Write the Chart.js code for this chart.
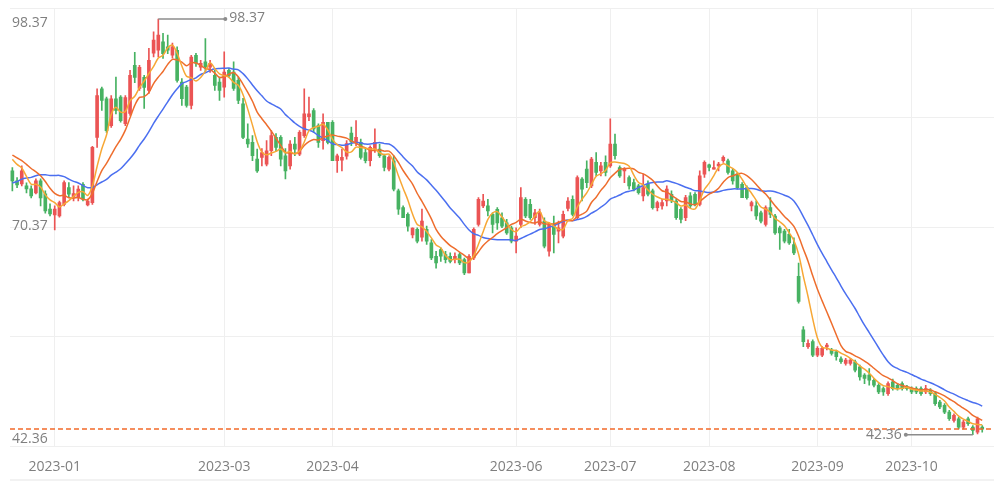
<!DOCTYPE html>
<html lang="en">
<head>
    <meta charset="UTF-8">
    <title>K-Line</title>
    <script src="https://cdn.jsdelivr.net/npm/chart.js"></script>
    <style>
        html, body { margin: 0; padding: 0; background: #fff; }
        #wrap { width: 1000px; height: 482px; }
    </style>
</head>
<body>
    <div id="wrap"><canvas id="kline"></canvas></div>
    <script>
        // trading days, month by month
        const tradingDays = [
            ['2022-12', [20, 21, 22, 23, 26, 27, 28, 29, 30]],
            ['2023-01', [3, 4, 5, 6, 9, 10, 11, 12, 13, 16, 17, 18, 19, 20, 30, 31]],
            ['2023-02', [1, 2, 3, 6, 7, 8, 9, 10, 13, 14, 15, 16, 17, 20, 21, 22, 23, 24, 27, 28]],
            ['2023-03', [1, 2, 3, 6, 7, 8, 9, 10, 13, 14, 15, 16, 17, 20, 21, 22, 23, 24, 27, 28, 29, 30, 31]],
            ['2023-04', [3, 4, 6, 7, 10, 11, 12, 13, 14, 17, 18, 19, 20, 21, 24, 25, 26, 27, 28]],
            ['2023-05', [4, 5, 8, 9, 10, 11, 12, 15, 16, 17, 18, 19, 22, 23, 24, 25, 26, 29, 30, 31]],
            ['2023-06', [1, 2, 5, 6, 7, 8, 9, 12, 13, 14, 15, 16, 19, 20, 21, 26, 27, 28, 29, 30]],
            ['2023-07', [3, 4, 5, 6, 7, 10, 11, 12, 13, 14, 17, 18, 19, 20, 21, 24, 25, 26, 27, 28, 31]],
            ['2023-08', [1, 2, 3, 4, 7, 8, 9, 10, 11, 14, 15, 16, 17, 18, 21, 22, 23, 24, 25, 28, 29, 30, 31]],
            ['2023-09', [1, 4, 5, 6, 7, 8, 11, 12, 13, 14, 15, 18, 19, 20, 21, 22, 25, 26, 27, 28]],
            ['2023-10', [9, 10, 11, 12, 13, 16, 17, 18, 19, 20, 23, 24, 25, 26, 27, 30]]
        ];
        const shownMonths = ['2023-01', '2023-03', '2023-04', '2023-06', '2023-07', '2023-08', '2023-09', '2023-10'];

        const opens = [
            77.91, 76.56, 76.15, 75.88, 75.48, 74.93, 76.56, 74.80, 72.77, 71.96,
            71.82, 73.40, 75.65, 74.39, 74.30, 76.11, 73.31, 73.62, 82.42, 88.98,
            87.63, 84.01, 87.63, 87.85, 84.28, 85.64, 92.14, 89.02, 90.51, 88.75,
            93.76, 94.17, 95.30, 94.62, 93.49, 94.17, 89.88, 89.20, 86.72, 93.49,
            91.87, 92.59, 91.87, 90.78, 89.88, 89.20, 91.46, 91.23, 90.11, 86.95,
            82.21, 81.75, 79.50, 79.72, 78.82, 80.62, 82.43, 82.43, 79.95, 78.59,
            81.53, 80.17, 82.66, 85.23, 86.04, 84.01, 81.98, 84.46, 84.46, 79.27,
            79.36, 79.90, 83.00, 81.75, 81.75, 80.39, 79.27, 80.85, 80.85, 79.95,
            78.14, 79.27, 75.21, 72.95, 72.05, 69.29, 70.02, 68.97, 70.02, 68.20,
            66.40, 67.31, 66.63, 66.40, 66.09, 66.63, 65.95, 64.14, 66.17, 70.69,
            73.18, 73.18, 72.05, 72.73, 71.59, 70.91, 70.24, 68.43, 70.69, 74.08,
            73.40, 71.59, 70.69, 71.14, 67.08, 70.69, 69.79, 69.11, 72.86, 74.08,
            71.59, 76.79, 78.14, 75.88, 79.05, 77.91, 79.05, 78.59, 81.53, 78.36,
            77.91, 77.01, 76.33, 75.88, 74.53, 76.11, 75.21, 72.95, 73.18, 73.85,
            74.76, 73.85, 72.73, 71.60, 74.53, 74.76, 73.40, 77.46, 78.73, 78.14,
            78.59, 79.27, 79.27, 77.91, 77.46, 76.11, 75.65, 73.18, 73.18, 72.27,
            70.69, 72.95, 71.82, 70.24, 69.79, 69.34, 67.99, 63.69, 56.47, 54.21,
            54.89, 53.08, 53.08, 54.21, 53.76, 53.53, 52.58, 51.95, 51.95, 52.18,
            51.50, 50.37, 50.37, 49.69, 49.02, 48.56, 47.88, 49.47, 49.02, 49.24,
            48.79, 48.56, 48.56, 48.56, 48.11, 48.34, 47.88, 46.76, 46.31, 45.40,
            44.27, 44.50, 43.37, 44.50, 43.37, 42.69, 43.37
        ];
        const closes = [
            76.56, 76.02, 77.91, 75.48, 74.53, 76.56, 74.26, 72.50, 72.09, 72.77,
            73.62, 76.33, 74.76, 74.84, 75.44, 74.08, 73.85, 81.07, 88.07, 87.40,
            83.33, 87.63, 86.04, 84.69, 87.80, 90.78, 90.51, 91.87, 89.16, 92.82,
            95.53, 96.20, 93.72, 94.17, 94.62, 90.11, 87.63, 86.72, 93.26, 92.41,
            92.41, 91.91, 92.41, 89.43, 88.75, 91.23, 90.78, 89.02, 87.40, 82.43,
            81.53, 79.95, 77.91, 80.39, 80.62, 82.66, 81.07, 79.50, 77.91, 81.53,
            80.85, 83.10, 85.59, 85.59, 83.56, 81.75, 84.46, 81.75, 79.27, 79.95,
            79.72, 81.60, 81.80, 82.43, 79.72, 79.27, 81.07, 81.75, 79.95, 78.36,
            79.72, 75.44, 72.73, 71.59, 70.47, 70.20, 68.43, 71.14, 68.43, 66.17,
            65.49, 66.40, 65.95, 65.72, 66.40, 65.49, 64.14, 66.40, 70.02, 74.08,
            73.85, 72.50, 70.69, 70.91, 70.47, 69.56, 68.43, 69.11, 74.30, 71.82,
            71.59, 72.27, 72.27, 67.76, 70.69, 69.34, 70.24, 72.05, 73.85, 72.05,
            77.01, 75.44, 76.33, 79.50, 77.69, 78.59, 77.69, 81.53, 79.95, 77.24,
            78.14, 75.88, 75.44, 74.98, 75.65, 74.76, 72.95, 73.62, 73.62, 75.44,
            73.85, 71.59, 71.37, 74.30, 73.18, 73.40, 77.24, 79.05, 78.36, 78.36,
            78.82, 79.72, 77.69, 76.56, 75.65, 74.30, 74.30, 73.62, 71.82, 71.14,
            72.95, 72.05, 69.56, 69.56, 68.43, 68.20, 66.85, 60.30, 54.89, 54.66,
            53.08, 53.98, 53.98, 54.44, 53.31, 52.85, 52.18, 52.40, 52.40, 51.05,
            50.14, 49.92, 49.69, 49.02, 48.11, 48.11, 49.24, 48.56, 48.56, 48.56,
            48.56, 48.11, 48.11, 47.88, 48.56, 47.88, 46.53, 46.08, 45.40, 44.50,
            44.95, 43.37, 44.05, 43.82, 42.92, 44.50, 43.10
        ];
        const highs = [
            78.36, 77.01, 78.59, 76.29, 75.88, 76.83, 76.83, 75.21, 73.45, 73.18,
            73.85, 76.56, 76.33, 75.88, 75.88, 76.33, 74.12, 81.20, 88.98, 89.20,
            87.85, 88.07, 90.55, 88.07, 88.07, 91.46, 93.90, 92.14, 90.78, 94.44,
            96.65, 98.37, 96.43, 96.20, 95.12, 94.62, 90.34, 89.43, 93.49, 93.76,
            92.82, 95.75, 92.82, 91.46, 90.55, 93.94, 91.73, 92.59, 90.55, 87.67,
            84.24, 82.66, 80.85, 80.90, 81.98, 83.33, 82.93, 82.66, 80.90, 81.98,
            82.43, 83.33, 88.98, 87.85, 86.31, 84.24, 85.59, 84.46, 84.69, 80.17,
            80.85, 82.00, 83.80, 84.69, 82.21, 80.90, 81.30, 83.56, 81.53, 80.17,
            79.95, 79.95, 75.44, 73.18, 72.27, 70.24, 70.24, 72.77, 70.47, 68.66,
            67.08, 67.53, 67.08, 66.85, 66.85, 66.85, 66.17, 66.63, 70.24, 74.30,
            74.76, 74.08, 72.27, 72.95, 72.27, 71.37, 70.47, 70.24, 75.65, 74.30,
            74.08, 72.73, 72.77, 71.59, 70.91, 71.82, 71.14, 72.50, 74.30, 74.53,
            77.24, 77.01, 79.27, 79.72, 80.39, 79.05, 79.95, 84.92, 82.88, 78.59,
            78.36, 77.24, 76.79, 76.11, 77.46, 76.56, 75.44, 73.85, 74.08, 75.88,
            75.21, 74.08, 72.95, 74.60, 74.98, 74.98, 77.91, 79.27, 78.82, 79.27,
            79.05, 79.95, 79.50, 78.14, 77.69, 76.33, 75.88, 73.85, 73.85, 72.50,
            73.18, 74.30, 72.05, 70.47, 70.02, 70.02, 68.88, 65.49, 56.92, 55.12,
            55.12, 54.21, 54.21, 54.66, 53.98, 53.76, 52.85, 52.63, 52.63, 52.40,
            51.73, 50.60, 51.27, 49.92, 49.24, 48.79, 49.47, 49.83, 49.24, 49.47,
            49.02, 48.79, 48.79, 48.79, 49.02, 48.56, 48.11, 46.99, 46.53, 45.63,
            45.17, 44.72, 44.27, 44.72, 43.59, 44.72, 43.59
        ];
        const lows = [
            75.21, 75.65, 75.88, 74.93, 74.26, 74.80, 73.18, 72.22, 71.82, 69.95,
            71.68, 73.18, 74.30, 73.85, 73.85, 73.85, 73.18, 73.40, 81.07, 86.04,
            83.10, 83.78, 85.59, 84.46, 84.01, 85.37, 89.80, 88.75, 86.31, 88.35,
            93.26, 93.26, 93.05, 93.72, 93.09, 89.88, 86.72, 86.49, 86.27, 92.00,
            91.46, 91.23, 91.19, 88.75, 87.40, 87.85, 90.55, 88.75, 86.95, 82.25,
            81.07, 79.27, 77.69, 78.59, 78.59, 79.95, 80.62, 78.59, 76.83, 78.14,
            79.95, 79.95, 82.43, 84.69, 83.10, 81.07, 80.85, 81.53, 79.27, 77.69,
            77.91, 79.50, 81.30, 81.30, 79.50, 78.99, 78.59, 80.39, 79.72, 77.91,
            77.91, 75.21, 72.05, 71.59, 69.79, 68.88, 68.20, 68.43, 67.99, 65.95,
            64.81, 65.72, 65.49, 65.49, 65.49, 65.27, 63.92, 64.14, 65.95, 70.47,
            72.95, 71.82, 69.56, 70.02, 70.24, 69.34, 68.20, 66.85, 70.24, 71.59,
            71.37, 70.69, 70.47, 67.53, 66.40, 66.85, 68.20, 68.88, 72.50, 71.82,
            71.37, 73.85, 75.65, 75.65, 77.24, 77.24, 77.24, 78.36, 79.50, 77.01,
            76.33, 75.44, 75.21, 74.76, 73.85, 74.53, 72.73, 72.50, 72.73, 73.18,
            73.62, 71.37, 70.91, 71.20, 72.95, 73.18, 73.18, 77.01, 77.91, 78.14,
            77.91, 79.05, 77.46, 76.11, 75.44, 74.30, 74.08, 72.50, 71.37, 70.91,
            70.47, 71.59, 69.34, 67.31, 68.20, 67.99, 66.63, 60.07, 54.21, 53.98,
            52.85, 52.85, 52.85, 53.76, 53.08, 52.40, 51.95, 51.73, 51.73, 50.82,
            49.69, 49.24, 49.02, 48.79, 47.88, 47.66, 47.66, 48.34, 48.34, 48.34,
            48.34, 47.88, 47.88, 47.66, 47.88, 47.66, 46.31, 45.85, 45.17, 44.27,
            44.05, 43.14, 43.14, 43.59, 42.36, 42.46, 42.69
        ];
        // closes before the first visible day, only used to warm up the moving averages
        const priorCloses = [
            72.0, 71.2, 72.5, 73.0, 72.2, 71.8, 72.6, 73.4, 72.9, 73.4,
            79.8, 81.5, 80.7, 80.0, 81.0, 79.5, 80.3, 81.2, 79.8
        ];

        const maPeriods = [5, 10, 20];
        const maColors = ['#f7a735', '#ee6d2d', '#4b6ff0'];
        const yLabels = [98.37, 70.37, 42.36];
        const yGrid = [99.86, 85.09, 70.33, 55.56, 40.8];

        const upColor = '#eb5454';
        const downColor = '#47b262';
        const textColor = '#7f7f7f';
        const gridColor = '#efefef';
        const font = { family: '"Open Sans", "Noto Sans", sans-serif', size: 14 };

        const dates = [];
        tradingDays.forEach(([month, days]) => {
            days.forEach(d => dates.push(month + '-' + String(d).padStart(2, '0')));
        });
        // two empty slots on the right, as in the original
        const labels = dates.concat(['', ' ']);

        const tickIdx = shownMonths.map(m => dates.findIndex(d => d.startsWith(m)));

        function movingAverage(n) {
            const all = priorCloses.concat(closes);
            return closes.map((c, i) => {
                const end = priorCloses.length + i + 1;
                const win = all.slice(end - n, end);
                return +(win.reduce((a, b) => a + b, 0) / n).toFixed(2);
            });
        }

        const candleColors = closes.map((c, i) => c >= opens[i] ? upColor : downColor);

        const extras = {
            id: 'extras',
            afterDatasetsDraw(chart) {
                const { ctx, chartArea, scales: { x, y } } = chart;
                ctx.save();

                // last price line
                const yLast = Math.round(y.getPixelForValue(closes[closes.length - 1]));
                ctx.strokeStyle = '#f26a2a';
                ctx.lineWidth = 1.5;
                ctx.setLineDash([5, 3]);
                ctx.beginPath();
                ctx.moveTo(chartArea.left, yLast);
                ctx.lineTo(chartArea.right, yLast);
                ctx.stroke();
                ctx.setLineDash([]);

                // axis labels inside the plot
                ctx.font = `${font.size}px ${font.family}`;
                ctx.fillStyle = textColor;
                ctx.textAlign = 'left';
                ctx.textBaseline = 'middle';
                const shift = [4, -1, 4];
                yLabels.forEach((v, i) => {
                    ctx.fillText(v.toFixed(2), chartArea.left + 2, y.getPixelForValue(v) + shift[i]);
                });

                // highest / lowest markers
                const hi = Math.max(...highs);
                const lo = Math.min(...lows);
                const hiIdx = highs.indexOf(hi);
                const loIdx = lows.indexOf(lo);
                ctx.strokeStyle = '#8c8c8c';
                ctx.fillStyle = '#8c8c8c';
                ctx.lineWidth = 1.5;

                const xh = x.getPixelForValue(hiIdx), yh = y.getPixelForValue(hi);
                ctx.beginPath();
                ctx.moveTo(xh, yh);
                ctx.lineTo(xh + 67, yh);
                ctx.stroke();
                ctx.beginPath();
                ctx.arc(xh + 67, yh, 2, 0, Math.PI * 2);
                ctx.fill();
                ctx.fillStyle = textColor;
                ctx.textAlign = 'left';
                ctx.fillText(hi.toFixed(2), xh + 71, yh - 1);

                const xl = x.getPixelForValue(loIdx), yl = y.getPixelForValue(lo);
                ctx.fillStyle = '#8c8c8c';
                ctx.beginPath();
                ctx.moveTo(xl, yl);
                ctx.lineTo(xl - 67, yl);
                ctx.stroke();
                ctx.beginPath();
                ctx.arc(xl - 67, yl, 2, 0, Math.PI * 2);
                ctx.fill();
                ctx.fillStyle = textColor;
                ctx.textAlign = 'right';
                ctx.fillText(lo.toFixed(2), xl - 71, yl);

                // faint bottom rule
                ctx.fillStyle = '#f2f2f2';
                ctx.fillRect(chartArea.left, chart.height - 3, chartArea.right - chartArea.left, 2);

                ctx.restore();
            }
        };

        const datasets = [
            {
                type: 'bar',
                label: 'wick',
                data: lows.map((l, i) => [l, highs[i]]),
                backgroundColor: candleColors,
                barThickness: 1,
                grouped: false,
                order: 3
            },
            {
                type: 'bar',
                label: 'body',
                data: opens.map((o, i) => [o, closes[i]]),
                backgroundColor: candleColors,
                barThickness: 3,
                minBarLength: 1,
                grouped: false,
                order: 2
            }
        ];
        maPeriods.forEach((n, k) => {
            datasets.push({
                type: 'line',
                label: 'MA' + n,
                data: movingAverage(n),
                borderColor: maColors[k],
                borderWidth: 1.5,
                pointRadius: 0,
                tension: 0.3,
                order: 1
            });
        });

        new Chart(document.getElementById('kline'), {
            data: { labels: labels, datasets: datasets },
            options: {
                responsive: true,
                maintainAspectRatio: false,
                animation: false,
                layout: { padding: { left: 10, right: 6, top: 8, bottom: -5 } },
                plugins: {
                    legend: { display: false },
                    tooltip: { enabled: false }
                },
                scales: {
                    x: {
                        type: 'category',
                        offset: true,
                        afterBuildTicks: scale => {
                            scale.ticks = tickIdx.map(i => ({ value: i }));
                        },
                        ticks: {
                            autoSkip: false,
                            maxRotation: 0,
                            padding: 12,
                            color: textColor,
                            font: font,
                            callback: function (value) {
                                return dates[value].slice(0, 7);
                            }
                        },
                        grid: { offset: false, color: gridColor, drawTicks: false },
                        border: { display: false }
                    },
                    y: {
                        min: yGrid[yGrid.length - 1],
                        max: yGrid[0],
                        afterBuildTicks: scale => {
                            scale.ticks = yGrid.map(v => ({ value: v }));
                        },
                        ticks: { display: false },
                        grid: { color: gridColor, drawTicks: false },
                        border: { display: false }
                    }
                }
            },
            plugins: [extras]
        });
    </script>
</body>
</html>
